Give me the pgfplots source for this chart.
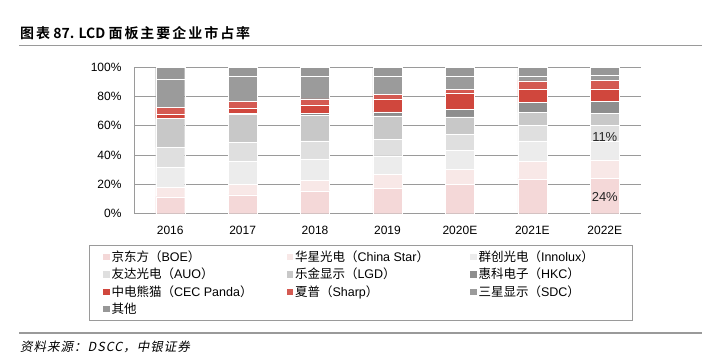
\documentclass[border=0pt]{standalone}
\usepackage{fontspec}
\setmainfont{Liberation Sans}
\newfontfamily\cjk{Noto Sans CJK SC}[BoldFont={Noto Sans CJK SC Bold}]
\newfontfamily\cjkit{Noto Sans CJK SC}[FakeSlant=0.2,LetterSpace=8]
\usepackage{pgfplots}
\usepackage{pgfplotstable}
\pgfplotsset{compat=1.18}
\definecolor{cBOE}{HTML}{F4D8D8}
\definecolor{cCSOT}{HTML}{F8E8E7}
\definecolor{cInno}{HTML}{ECECEC}
\definecolor{cAUO}{HTML}{DFDFDF}
\definecolor{cLGD}{HTML}{C8C8C8}
\definecolor{cHKC}{HTML}{8E8E8E}
\definecolor{cCEC}{HTML}{D0473D}
\definecolor{cSharp}{HTML}{D45A52}
\definecolor{cSDC}{HTML}{9B9B9B}
\definecolor{cOther}{HTML}{979797}
\definecolor{rulegray}{HTML}{9A9A9A}
\pgfplotstableread{
x boe csot inno auo lgd hkc cec sharp sdc other
0 11.6 6.2 14.1 13.2 19.8 0.0 3.2 4.6 19.1 8.2
1 12.8 7.3 15.5 13.0 19.4 0.7 3.5 4.6 17.1 6.1
2 15.7 7.3 14.4 12.3 17.3 1.6 5.7 4.1 15.3 6.3
3 17.5 9.3 12.8 11.4 15.9 2.7 8.4 3.6 12.3 6.1
4 20.0 10.3 13.2 10.9 11.8 5.0 11.4 2.3 9.1 6.0
5 23.9 12.1 13.7 10.7 8.7 6.8 9.1 5.7 3.4 5.9
6 24.0 12.7 12.7 11.0 8.2 8.0 8.7 5.7 3.4 5.6
}\datatable
\newcommand\lt[1]{\makebox[173pt][l]{#1}}
\newcommand\ltc[1]{\makebox[138pt][l]{#1}}
\newcommand\cs[1]{{\cjk\addfontfeature{LetterSpace=14}#1}}
\begin{document}
\begin{tikzpicture}
\path[use as bounding box] (0,0) rectangle (702pt,-357pt);
\node[anchor=west,inner sep=0pt] at (20pt,-33pt) {\fontsize{14}{16}\selectfont\bfseries\cjk\cs{图表} 87. LCD \cs{面板主要企业市占率}};
\draw[rulegray,line width=1.5pt] (19pt,-45.5pt) -- (702pt,-45.5pt);
\draw[rulegray,line width=1.5pt] (19pt,-333pt) -- (702pt,-333pt);
\node[anchor=west,inner sep=0pt] at (20pt,-347pt) {\fontsize{12.5}{14}\selectfont\cjkit 资料来源：\textit{DSCC}，中银证券};
\begin{axis}[
  at={(134pt,-213.7pt)}, anchor=south west,
  scale only axis, width=507pt, height=146.4pt,
  ybar stacked, bar width=29pt,
  xmin=-0.5, xmax=6.5, ymin=0, ymax=100,
  xtick={0,...,6}, xticklabels={2016,2017,2018,2019,2020E,2021E,2022E},
  ytick={0,20,...,100}, yticklabels={0\%,20\%,40\%,60\%,80\%,100\%},
  ymajorgrids, grid style={rulegray, line width=0.8pt},
  axis x line*=bottom, axis y line*=left,
  axis line style={rulegray, line width=0.9pt},
  major tick length=0pt,
  tick label style={font=\fontsize{12}{14}\selectfont},
  xticklabel style={yshift=-9pt},
  yticklabel style={xshift=-9pt},
  every axis plot/.append style={draw=white, line width=0.4pt},
  legend columns=3,
  legend image code/.code={\fill[#1,draw=none] (0pt,-3.2pt) rectangle (6.5pt,3.2pt);},
  legend style={at={(-0.0895,-0.216)}, anchor=north west, draw=rulegray, line width=0.8pt,
    font=\fontsize{12.5}{14}\selectfont, cells={anchor=west}, row sep=1.3pt,
    inner xsep=14pt, inner ysep=3pt},
  after end axis/.code={
    \node[font=\fontsize{13}{15}\selectfont, text=black!85] at (axis cs:6,11.2) {24\%};
    \node[font=\fontsize{13}{15}\selectfont, text=black!85] at (axis cs:6,52.5) {11\%};
  },
]
\addplot[fill=cBOE] table[x=x,y=boe]{\datatable};
\addlegendentry{\lt{{\cjk 京东方（}BOE{\cjk ）}}}
\addplot[fill=cCSOT] table[x=x,y=csot]{\datatable};
\addlegendentry{\lt{{\cjk 华星光电（}China Star{\cjk ）}}}
\addplot[fill=cInno] table[x=x,y=inno]{\datatable};
\addlegendentry{\ltc{{\cjk 群创光电（}Innolux{\cjk ）}}}
\addplot[fill=cAUO] table[x=x,y=auo]{\datatable};
\addlegendentry{\lt{{\cjk 友达光电（}AUO{\cjk ）}}}
\addplot[fill=cLGD] table[x=x,y=lgd]{\datatable};
\addlegendentry{\lt{{\cjk 乐金显示（}LGD{\cjk ）}}}
\addplot[fill=cHKC] table[x=x,y=hkc]{\datatable};
\addlegendentry{\ltc{{\cjk 惠科电子（}HKC{\cjk ）}}}
\addplot[fill=cCEC] table[x=x,y=cec]{\datatable};
\addlegendentry{\lt{{\cjk 中电熊猫（}CEC Panda{\cjk ）}}}
\addplot[fill=cSharp] table[x=x,y=sharp]{\datatable};
\addlegendentry{\lt{{\cjk 夏普（}Sharp{\cjk ）}}}
\addplot[fill=cSDC] table[x=x,y=sdc]{\datatable};
\addlegendentry{\ltc{{\cjk 三星显示（}SDC{\cjk ）}}}
\addplot[fill=cOther] table[x=x,y=other]{\datatable};
\addlegendentry{\lt{{\cjk 其他}}}
\end{axis}
\end{tikzpicture}
\end{document}
